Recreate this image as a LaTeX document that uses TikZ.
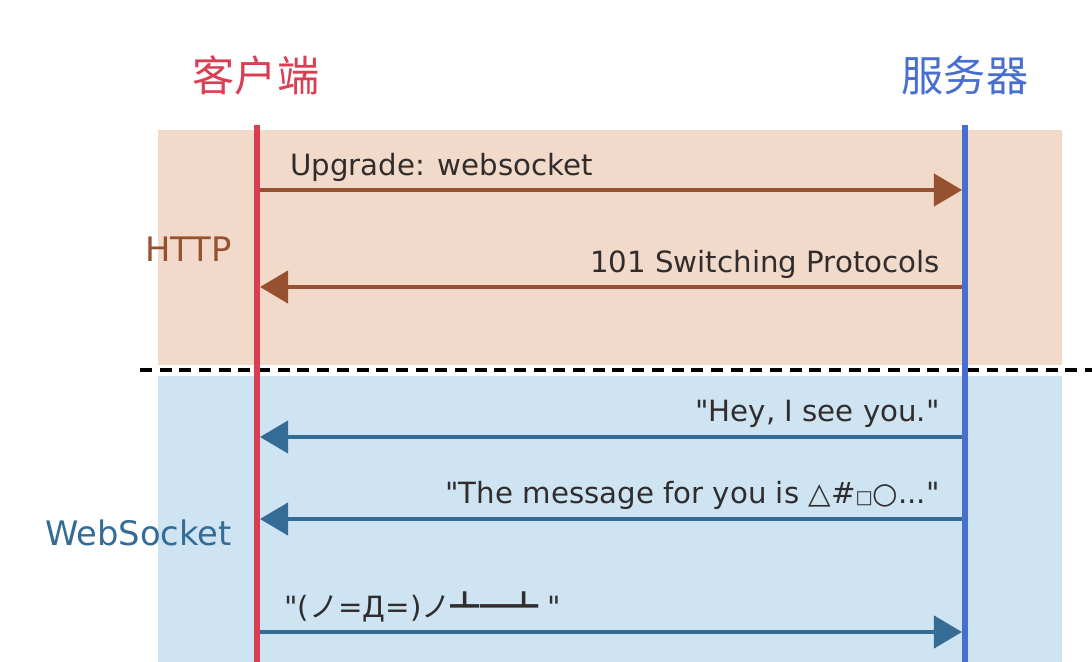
\documentclass[tikz,border=0pt]{standalone}
\usepackage{fontspec}
\setmainfont{DejaVu Sans}
\newfontfamily\latinfont{DejaVu Sans}
\newfontfamily\cjk{Noto Sans CJK SC}
\usepackage{xcolor}
\usepackage{tikz}
\usetikzlibrary{arrows.meta}

\definecolor{httpbg}{RGB}{242,218,203}
\definecolor{wsbg}{RGB}{206,228,242}
\definecolor{clientred}{RGB}{218,62,82}
\definecolor{serverblue}{RGB}{72,110,208}
\definecolor{httpbrown}{RGB}{150,82,48}
\definecolor{wsblue}{RGB}{52,108,150}
\definecolor{msgtext}{RGB}{50,45,45}

\begin{document}
\begin{tikzpicture}[x=0.025cm,y=-0.025cm,
    msg/.style={font=\latinfont\fontsize{20.8}{24}\selectfont, text=msgtext, inner sep=0pt},
    lanelabel/.style={font=\latinfont\fontsize{24}{28}\selectfont, inner sep=0pt},
    title/.style={font=\cjk\fontsize{30}{34}\selectfont, inner sep=0pt},
    lifeline/.style={line width=4.3pt},
    httpmsg/.style={draw=httpbrown, line width=2.5pt, -{Triangle[length=20pt,width=23pt]}},
    wsmsg/.style={draw=wsblue, line width=2.5pt, -{Triangle[length=20pt,width=23pt]}}]

    \useasboundingbox (0,0) rectangle (1092,662);

    % Backgrounds
    \fill[httpbg] (158,130) rectangle (1062,365);
    \fill[wsbg] (158,376) rectangle (1062,662);

    % Separator
    \draw[line width=2.6pt, dash pattern=on 8.5pt off 5.5pt] (140,370) -- (1092,370);

    % Titles
    \node[title, text=clientred] (client) at (256,75) {客户端};
    \node[title, text=serverblue] (server) at (965,75) {服务器};

    % Lifelines
    \coordinate (ctop) at (257,125);
    \coordinate (cbot) at (257,662);
    \coordinate (stop) at (965,125);
    \coordinate (sbot) at (965,662);
    \draw[lifeline, clientred] (ctop) -- (cbot);
    \draw[lifeline, serverblue] (stop) -- (sbot);

    % Message ends
    \coordinate (c1) at (260,190);  \coordinate (s1) at (962,190);
    \coordinate (c2) at (260,287);  \coordinate (s2) at (962,287);
    \coordinate (c3) at (260,437);  \coordinate (s3) at (962,437);
    \coordinate (c4) at (260,519);  \coordinate (s4) at (962,519);
    \coordinate (c5) at (260,632);  \coordinate (s5) at (962,632);

    % Messages
    \draw[httpmsg] (c1) -- (s1);
    \draw[httpmsg] (s2) -- (c2);
    \draw[wsmsg] (s3) -- (c3);
    \draw[wsmsg] (s4) -- (c4);
    \draw[wsmsg] (c5) -- (s5);

    % Message labels
    \node[msg, anchor=base west] (m1) at (290,176) {Upgrade: websocket};
    \node[msg, anchor=base east] (m2) at (940,273) {101 Switching Protocols};
    \node[msg, anchor=base east] (m3) at (940,421) {"Hey, I see you."};
    \node[msg, anchor=base east] (m4) at (940,503) {"The message for you is △\#{\fontsize{13}{14}\selectfont □}○..."};
    \node[msg, anchor=base west] (m5) at (284,617) {"({\cjk ノ}=Д=){\cjk ノ┻━┻} "};

    % Protocol labels
    \node[lanelabel, text=httpbrown, anchor=base east] (http) at (232,262) {HTTP};
    \node[lanelabel, text=wsblue, anchor=base east] (ws) at (232,545) {WebSocket};

\end{tikzpicture}
\end{document}
